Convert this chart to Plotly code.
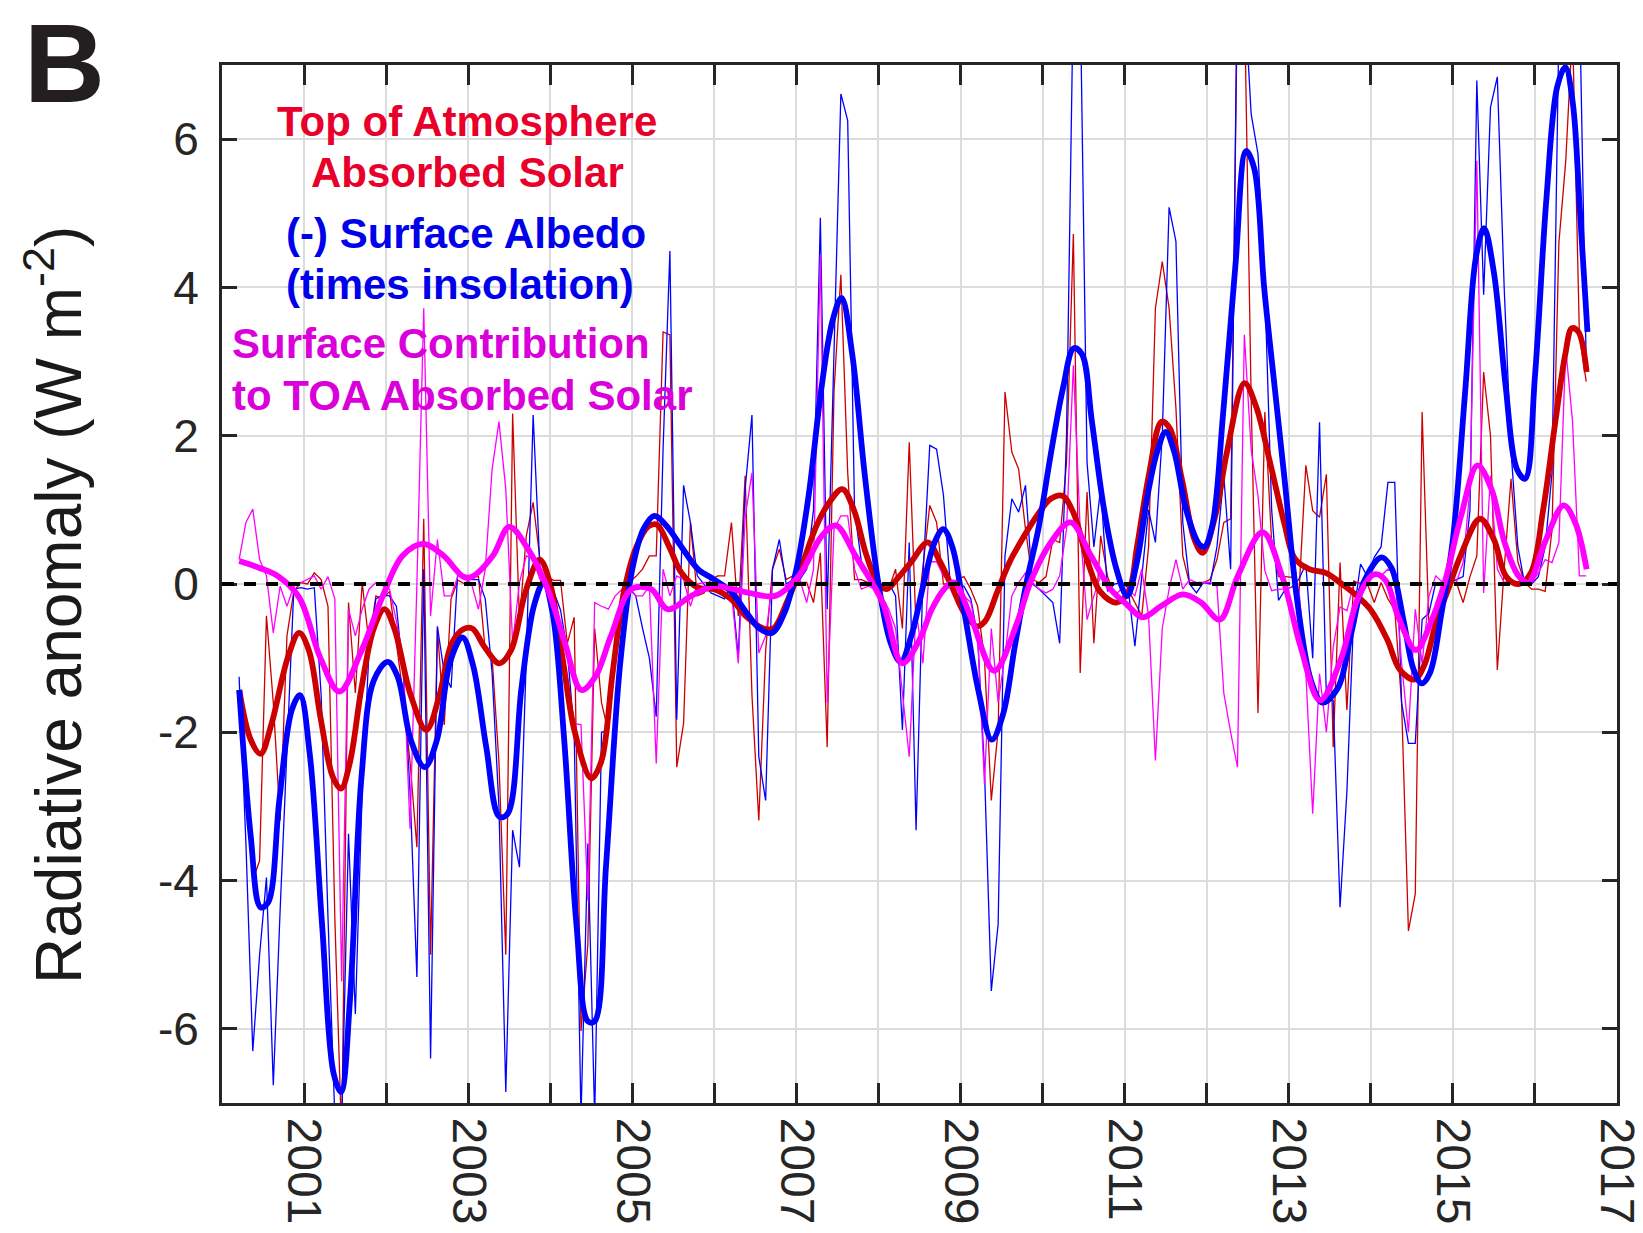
import plotly.graph_objects as go

# ---------------- monthly data, Mar 2000 .. Aug 2016 (W m-2) ----------------
toa_thin = (
    [-1.43, -2.6, -4.0, -3.73, -0.43, -1.6, -3.19, -0.7, -0.1, 0.02] +              # 2000 Mar-Dec
    [0.0, 0.15, 0.06, -0.3, -4.5, -7.5, -0.25, -1.47, 0.02, -0.8, -0.16, -0.2] +     # 2001
    [-0.1, -0.8, -1.5, -2.4, -3.55, 0.88, -5.0, -0.6, -1.9, -0.2, 0.05, 0.0] +       # 2002
    [0.1, 0.1, -0.9, -1.0, -2.4, -5.0, 2.3, -0.5, 0.65, 1.1, 0.33, 0.1] +            # 2003
    [0.05, 0.05, -0.8, -0.45, -6.03, -4.86, -0.6, -1.6, -2.0, -0.8, -0.07, 0.02] +   # 2004
    [0.1, 0.2, 0.38, 0.38, 3.4, 3.36, -2.47, -1.88, 0.83, -0.16, -0.12, 0.06] +      # 2005
    [0.11, 0.11, 0.83, -0.43, 1.46, -1.5, -3.19, -0.9, 0.2, 0.47, 0.06, 0.11] +      # 2006
    [0.02, 0.02, -0.25, 0.42, -2.2, 2.6, 4.17, 1.5, 0.06, 0.06, 0.02, 0.02] +        # 2007
    [-0.07, -0.07, 0.2, -0.6, 1.91, -0.6, 0.2, 1.06, 0.83, 0.0, 0.0, 0.06] +         # 2008
    [0.1, -0.07, -0.3, -1.0, -2.92, -1.97, 2.59, 1.78, 1.55, 0.74, 0.06, 0.02] +     # 2009
    [0.1, 0.6, 0.56, 1.64, 4.72, -1.2, 1.24, -0.8, 0.65, 0.1, -0.16, -0.25] +        # 2010
    [-0.07, -0.25, -0.43, 0.5, 3.72, 4.35, 3.72, 2.37, 0.38, 0.0, 0.0, 0.02] +       # 2011
    [0.06, 0.33, 0.83, 0.88, 8.0, 8.0, 2.5, -1.74, 2.32, 0.56, 0.1, 0.1] +           # 2012
    [0.09, -0.11, 1.6, 0.99, 0.9, 1.48, -2.2, 0.29, -1.7, 0.04, 0.0, 0.0] +          # 2013
    [-0.25, 0.02, -0.2, -0.35, -1.6, -4.68, -4.18, 2.32, -0.57, -0.52, 0.0, 0.02] +  # 2014
    [0.02, -0.25, 0.1, 0.38, 2.86, 2.0, -1.16, 0.2, 1.42, 0.3, 0.02, -0.07] +        # 2015
    [-0.07, -0.1, 0.74, 4.6, 5.7, 7.5, 3.36, 2.73]                                   # 2016 Jan-Aug
)

albedo_thin = (
    [-1.25, -3.5, -6.3, -5.0, -3.96, -6.76, -4.4, -2.2, -0.07, -0.05] +
    [-0.07, -0.05, -1.5, -4.5, -7.2, -7.3, -3.37, -5.8, -2.8, -0.9, -0.2, -0.15] +
    [-0.16, -0.3, -1.2, -2.8, -5.3, 0.2, -6.4, -0.57, -1.2, -1.4, 0.2, 0.06] +
    [0.06, 0.06, -0.2, -1.2, -3.0, -6.85, -3.32, -3.82, -1.0, 2.28, 0.2, 0.0] +
    [-0.1, -0.35, -0.9, -2.0, -7.2, -3.5, -7.2, -2.0, -1.97, -1.0, -0.1, -0.05] +
    [-0.16, -0.6, -1.0, -1.79, 1.82, 4.49, -1.83, 1.33, 0.83, 0.11, 0.0, -0.12] +
    [-0.16, -0.2, 0.0, -0.98, 1.28, 2.28, -2.33, -2.92, 0.2, 0.6, 0.0, 0.06] +
    [0.06, 0.2, 1.0, 4.94, -0.34, 3.0, 6.61, 6.25, 1.0, 0.3, 0.06, -0.03] +
    [-0.03, 0.02, -0.16, -1.97, 0.56, -3.32, 0.1, 1.87, 1.82, 1.2, 0.0, -0.03] +
    [-0.03, -0.2, -0.7, -2.5, -5.49, -4.59, 0.38, 1.15, 0.97, 1.33, 0.0, -0.07] +
    [-0.16, -0.25, -0.8, 2.0, 8.0, 8.0, 1.64, 0.5, 1.3, -0.1, 0.0, 0.02] +
    [-0.05, -0.84, 0.1, 1.0, 0.56, 2.0, 5.08, 4.62, 0.83, 0.0, -0.12, 0.02] +
    [0.0, 0.5, 1.46, 0.2, 8.5, 8.0, 6.34, 5.8, 4.0, 1.0, -0.22, -0.07] +
    [-0.04, 0.07, 0.27, -1.0, 2.18, -1.53, -1.57, -4.36, -2.8, -0.4, 0.27, 0.1] +
    [0.36, 0.5, 1.37, 1.37, -1.6, -2.15, -2.15, -0.48, -0.39, 0.02, 0.0, 0.02] +
    [0.06, 0.1, 1.0, 6.79, 3.9, 6.43, 6.84, 4.0, 1.8, 0.5, 0.0, 0.0] +
    [0.1, 0.5, 1.5, 7.5, 9.0, 9.0, 8.0, 2.95]
)

surface_thin = (
    [0.33, 0.83, 1.01, 0.33, 0.11, -0.66, -0.03, -0.3, -0.03, 0.02] +
    [0.06, 0.11, -0.07, 0.1, -0.2, -5.36, -0.34, -0.7, -0.34, -0.07, 0.02, -0.03] +
    [-0.07, -0.5, -1.0, -3.3, 0.0, 3.72, -0.43, 0.6, -0.16, -0.16, 0.11, 0.1] +
    [0.0, -0.34, 0.2, 1.55, 2.19, 1.28, -0.8, 0.02, 0.38, 0.33, 0.06, -0.07] +
    [-0.16, -0.7, -1.25, -1.88, -1.9, -4.27, -0.25, -0.3, -0.34, -0.16, -0.07, -0.03] +
    [-0.16, -0.16, -0.03, -2.42, 0.2, -0.16, 0.11, 0.06, -0.3, 0.0, 0.02, 0.02] +
    [-0.07, -0.07, -0.1, -1.07, 0.9, 1.5, -0.93, -0.7, 0.02, 0.02, -0.03, -0.07] +
    [0.06, -0.25, 0.2, 4.44, -1.6, 0.74, 0.92, 0.92, 0.2, -0.07, -0.03, -0.07] +
    [-0.16, -0.34, -0.6, -1.5, -2.33, -0.34, -1.07, 0.3, 0.3, 0.11, 0.02, -0.07] +
    [-0.16, -0.25, -0.7, -2.7, -0.6, -1.6, -0.97, -0.16, 0.02, 0.15, 0.02, -0.07] +
    [-0.12, -0.07, 0.11, 0.74, 2.95, 0.74, -0.48, -0.16, 0.11, -0.07, -0.16, -0.07] +
    [-0.07, -0.16, 0.2, -0.43, -2.38, -0.6, -0.07, 0.33, -0.07, 0.06, 0.02, 0.02] +
    [0.02, -0.03, -1.47, -2.0, -2.47, 3.36, 1.82, 1.19, 0.18, -0.09, -0.07, -0.07] +
    [-0.04, -0.09, -1.2, -3.1, -1.21, -2.0, -0.85, -0.31, -0.36, 0.0, 0.02, 0.1] +
    [0.11, 0.11, 0.2, 0.15, -1.07, -2.0, -0.34, -1.07, -0.16, 0.11, 0.02, 0.02] +
    [0.02, 0.29, 1.28, 5.71, -0.12, 1.46, 0.2, 0.02, 0.06, 0.02, 0.02, 0.02] +
    [0.15, 0.33, 0.29, 0.56, 3.18, 2.19, 0.11, 0.11]
)

first_year, first_month = 2000, 3   # series start: March 2000

# ---------------- smoothed curves (decimal year, W m-2) ----------------
albedo_smooth_t = [
    2000.21, 2000.35, 2000.47, 2000.56, 2000.70, 2000.85, 2000.95,
    2001.07, 2001.22, 2001.36, 2001.45, 2001.56, 2001.70, 2001.85,
    2002.02, 2002.14, 2002.30, 2002.47, 2002.62, 2002.78, 2002.93,
    2003.06, 2003.22, 2003.38, 2003.48, 2003.65, 2003.80, 2003.92,
    2004.03, 2004.17, 2004.32, 2004.46, 2004.54, 2004.68, 2004.85,
    2005.00, 2005.14, 2005.27, 2005.42, 2005.60, 2005.80,
    2006.00, 2006.20, 2006.40, 2006.55, 2006.70, 2006.85,
    2007.00, 2007.15, 2007.30, 2007.44, 2007.55, 2007.68, 2007.83,
    2008.00, 2008.15, 2008.27, 2008.40, 2008.55, 2008.68, 2008.79, 2008.90,
    2009.05, 2009.22, 2009.38, 2009.52, 2009.66, 2009.80, 2009.95,
    2010.10, 2010.25, 2010.38, 2010.48, 2010.60, 2010.75, 2010.90,
    2011.03, 2011.15, 2011.28, 2011.40, 2011.50, 2011.60, 2011.75, 2011.90, 2011.97,
    2012.07, 2012.20, 2012.35, 2012.48, 2012.58, 2012.70, 2012.82, 2012.95,
    2013.10, 2013.27, 2013.41, 2013.60, 2013.76, 2013.92,
    2014.13, 2014.25, 2014.40, 2014.52, 2014.62, 2014.72, 2014.86,
    2015.00, 2015.15, 2015.28, 2015.38, 2015.50, 2015.64, 2015.78, 2015.88,
    2016.00, 2016.14, 2016.27, 2016.37, 2016.46, 2016.55, 2016.64,
]
albedo_smooth_v = [
    -1.43, -3.4, -4.36, -4.3, -2.9, -1.7, -1.5,
    -2.3, -4.6, -6.6, -6.85, -5.6, -2.6, -1.3,
    -1.05, -1.25, -2.1, -2.47, -2.1, -1.05, -0.72,
    -1.1, -2.2, -3.14, -3.1, -1.4, -0.3, 0.02,
    -0.4, -2.1, -4.6, -5.9, -5.9, -3.8, -1.1,
    0.2, 0.75, 0.92, 0.78, 0.5, 0.2,
    0.06, -0.1, -0.4, -0.6, -0.66, -0.4,
    0.2, 1.2, 2.6, 3.55, 3.86, 3.1, 1.5,
    0.0, -0.8, -1.05, -0.7, 0.0, 0.55, 0.74, 0.5,
    -0.4, -1.45, -2.1, -1.75, -0.85, 0.0, 0.75,
    1.75, 2.65, 3.18, 3.1, 2.2, 1.0, 0.2,
    -0.16, 0.3, 1.2, 1.8, 2.05, 1.8, 1.0, 0.55, 0.5,
    0.8, 2.3, 4.3, 5.84, 5.6, 4.0, 2.74, 1.4,
    -0.2, -1.3, -1.6, -1.4, -0.67, 0.04,
    0.36, 0.22, -0.5, -1.15, -1.34, -1.2, -0.4,
    0.6, 2.6, 4.4, 4.8, 4.2, 2.7, 1.55, 1.42,
    2.8, 5.2, 6.7, 6.97, 6.5, 5.0, 3.4,
]

toa_smooth_t = [
    2000.21, 2000.35, 2000.47, 2000.60, 2000.80, 2000.94,
    2001.06, 2001.20, 2001.35, 2001.45, 2001.56, 2001.70, 2001.85, 2001.98,
    2002.10, 2002.30, 2002.49, 2002.65, 2002.80, 2002.94,
    2003.05, 2003.20, 2003.38, 2003.52, 2003.70, 2003.87,
    2004.00, 2004.15, 2004.30, 2004.50, 2004.62, 2004.76, 2004.90,
    2005.05, 2005.20, 2005.30, 2005.45, 2005.60, 2005.80,
    2006.00, 2006.20, 2006.40, 2006.60, 2006.72, 2006.90,
    2007.05, 2007.25, 2007.40, 2007.56, 2007.70, 2007.85,
    2008.00, 2008.10, 2008.25, 2008.40, 2008.60, 2008.75, 2008.90,
    2009.05, 2009.20, 2009.30, 2009.45, 2009.60, 2009.75, 2009.95,
    2010.10, 2010.24, 2010.38, 2010.55, 2010.70, 2010.90,
    2011.05, 2011.15, 2011.30, 2011.45, 2011.55, 2011.70, 2011.85, 2011.95,
    2012.10, 2012.25, 2012.46, 2012.60, 2012.78, 2012.95,
    2013.07, 2013.25, 2013.45, 2013.60, 2013.80,
    2014.00, 2014.20, 2014.35, 2014.53, 2014.65, 2014.80, 2014.95,
    2015.10, 2015.33, 2015.50, 2015.65, 2015.80, 2015.95,
    2016.10, 2016.25, 2016.37, 2016.45, 2016.53, 2016.63,
]
toa_smooth_v = [
    -1.43, -2.1, -2.29, -1.9, -1.0, -0.66,
    -0.9, -1.8, -2.6, -2.76, -2.4, -1.4, -0.6, -0.34,
    -0.6, -1.5, -1.97, -1.5, -0.8, -0.61,
    -0.6, -0.85, -1.07, -0.9, -0.1, 0.33,
    0.0, -1.0, -2.0, -2.62, -2.4, -1.2, -0.1,
    0.5, 0.78, 0.8, 0.5, 0.15, -0.05,
    -0.07, -0.2, -0.45, -0.6, -0.6, -0.2,
    0.2, 0.8, 1.1, 1.28, 1.0, 0.4,
    0.0, -0.07, 0.1, 0.3, 0.56, 0.3, -0.05,
    -0.4, -0.57, -0.5, -0.1, 0.3, 0.6, 0.95,
    1.15, 1.19, 0.95, 0.3, -0.1, -0.25,
    -0.1, 0.5, 1.5, 2.19, 2.1, 1.4, 0.6, 0.42,
    0.9, 1.8, 2.71, 2.4, 1.6, 0.8,
    0.35, 0.2, 0.15, 0.04, -0.13,
    -0.35, -0.75, -1.15, -1.29, -1.1, -0.5, -0.05,
    0.4, 0.88, 0.6, 0.1, 0.0, 0.15,
    1.0, 2.2, 3.1, 3.45, 3.4, 2.86,
]

surface_smooth_t = [
    2000.21, 2000.45, 2000.69, 2000.94,
    2001.20, 2001.43, 2001.70, 2001.96,
    2002.20, 2002.45, 2002.70, 2002.94,
    2003.05, 2003.30, 2003.50, 2003.73, 2003.97,
    2004.18, 2004.38, 2004.55, 2004.74, 2004.99,
    2005.23, 2005.43, 2005.72,
    2006.00, 2006.42, 2006.74,
    2007.03, 2007.31, 2007.48, 2007.72,
    2008.05, 2008.29, 2008.50, 2008.65, 2008.80, 2008.92,
    2009.12, 2009.41, 2009.69, 2009.85,
    2010.10, 2010.34, 2010.59, 2010.83,
    2011.03, 2011.22, 2011.44, 2011.71, 2011.93,
    2012.16, 2012.38, 2012.68, 2012.92,
    2013.15, 2013.38, 2013.64, 2013.84,
    2014.04, 2014.18, 2014.33, 2014.55, 2014.73, 2014.90,
    2015.10, 2015.30, 2015.47, 2015.63, 2015.80, 2015.92,
    2016.12, 2016.35, 2016.49, 2016.63,
]
surface_smooth_v = [
    0.31, 0.22, 0.1, -0.18,
    -1.0, -1.45, -0.9, -0.16,
    0.38, 0.54, 0.38, 0.1,
    0.1, 0.38, 0.77, 0.47, -0.07,
    -0.8, -1.43, -1.25, -0.7, -0.07,
    -0.07, -0.34, -0.16,
    -0.03, -0.12, -0.16,
    0.11, 0.65, 0.79, 0.38,
    -0.25, -1.07, -0.75, -0.34, -0.07, 0.02,
    -0.43, -1.17, -0.52, 0.02,
    0.56, 0.83, 0.38, -0.07,
    -0.28, -0.45, -0.3, -0.14, -0.25,
    -0.48, 0.11, 0.7, 0.1,
    -0.87, -1.57, -1.0, -0.2,
    0.13, 0.05, -0.43, -0.89, -0.52, 0.02,
    0.92, 1.6, 1.28, 0.56, 0.11, 0.02,
    0.56, 1.06, 0.83, 0.2,
]

year_labels_at = [2001, 2003, 2005, 2007, 2009, 2011, 2013, 2015, 2017]
year_labels = [str(y) for y in year_labels_at]
y_ticks = [-6, -4, -2, 0, 2, 4, 6]
y_labels = ["-6", "-4", "-2", "0", "2", "4", "6"]

legend_lines = [
    ("Top of Atmosphere", "#e8002a"),
    ("Absorbed Solar", "#e8002a"),
    ("(-) Surface Albedo", "#0000eb"),
    ("(times insolation)", "#0000eb"),
    ("Surface Contribution", "#d900d9"),
    ("to TOA Absorbed Solar", "#d900d9"),
]

# ---------------- figure ----------------
def month_axis(n):
    return [first_year + (first_month - 1 + i + 0.5) / 12.0 for i in range(n)]

RED = "#cc0000"
BLUE = "#0000ff"
MAG = "#ff00ff"
THIN = 1.3
THICK = 5.8

fig = go.Figure()
fig.add_trace(go.Scatter(x=month_axis(len(toa_thin)), y=toa_thin, mode="lines",
                         line=dict(color=RED, width=THIN), showlegend=False))
fig.add_trace(go.Scatter(x=month_axis(len(albedo_thin)), y=albedo_thin, mode="lines",
                         line=dict(color=BLUE, width=THIN), showlegend=False))
fig.add_trace(go.Scatter(x=month_axis(len(surface_thin)), y=surface_thin, mode="lines",
                         line=dict(color=MAG, width=THIN), showlegend=False))
fig.add_trace(go.Scatter(x=toa_smooth_t, y=toa_smooth_v, mode="lines",
                         line=dict(color=RED, width=THICK, shape="spline", smoothing=1.0),
                         showlegend=False))
fig.add_trace(go.Scatter(x=albedo_smooth_t, y=albedo_smooth_v, mode="lines",
                         line=dict(color=BLUE, width=THICK, shape="spline", smoothing=1.0),
                         showlegend=False))
fig.add_trace(go.Scatter(x=surface_smooth_t, y=surface_smooth_v, mode="lines",
                         line=dict(color=MAG, width=THICK, shape="spline", smoothing=1.0),
                         showlegend=False))

# dashed zero reference line
fig.add_hline(y=0, line=dict(color="black", width=4, dash="12px,10px"))

AX = "#262626"
GRID = "#dcdcdc"
FONT = "Liberation Sans, Arial, Helvetica, sans-serif"

fig.update_layout(
    width=1643, height=1233,
    margin=dict(l=222, r=26, t=65, b=130),
    paper_bgcolor="white", plot_bgcolor="white",
    font=dict(family=FONT, color=AX),
    xaxis=dict(range=[2000, 2017], tickmode="array", tickvals=year_labels_at, ticktext=year_labels,
               tickangle=90, ticks="inside", ticklen=20, tickwidth=3, tickcolor=AX,
               showline=True, linewidth=3, linecolor=AX, mirror="ticks",
               showgrid=True, gridcolor=GRID, gridwidth=2, zeroline=False,
               minor=dict(tickmode="linear", tick0=2000, dtick=1, ticks="inside",
                          ticklen=20, tickwidth=3, tickcolor=AX,
                          showgrid=True, gridcolor=GRID, gridwidth=2),
               automargin=False, ticklabeloverflow="allow",
               tickfont=dict(size=48, color=AX, family=FONT), ticklabelstandoff=2),
    yaxis=dict(range=[-7, 7], tickmode="array", tickvals=y_ticks, ticktext=y_labels,
               ticks="inside", ticklen=15, tickwidth=3, tickcolor=AX,
               showline=True, linewidth=3, linecolor=AX, mirror="ticks",
               showgrid=True, gridcolor=GRID, gridwidth=2, zeroline=False,
               automargin=False,
               tickfont=dict(size=46, color=AX, family=FONT), ticklabelstandoff=11),
)

# plot area in pixels, used to place text
L, R, T, B = 222, 1643 - 26, 65, 1233 - 130
def px(xp):
    return (xp - L) / (R - L)
def py(yp):
    return (B - yp) / (B - T)

# legend-like labels
legend_pos = [
    (467, 122, "center"),
    (467, 172, "center"),
    (466, 233, "center"),
    (460, 284, "center"),
    (230, 343, "left"),
    (230, 395, "left"),
]
for (txt, col), (xp, yp, anc) in zip(legend_lines, legend_pos):
    fig.add_annotation(x=px(xp), y=py(yp), xref="paper", yref="paper",
                       text="<b>%s</b>" % txt, showarrow=False,
                       xanchor=anc, yanchor="middle",
                       font=dict(size=42, color=col, family=FONT))

# y-axis title
fig.add_annotation(x=px(54), y=py(605), xref="paper", yref="paper",
                   text="Radiative anomaly (W m<sup>-2</sup>)", textangle=-90,
                   showarrow=False, xanchor="center", yanchor="middle",
                   font=dict(size=64, color="#1a1a1a", family=FONT))

# panel letter
fig.add_annotation(x=px(64), y=py(0), xref="paper", yref="paper",
                   text="<b>B</b>", showarrow=False, xanchor="center", yanchor="top",
                   borderpad=0,
                   font=dict(size=112, color="#231f20", family=FONT))

# remove the default page margin so the figure sits at the window's top-left corner
fig.write_html("out.html", config={"displayModeBar": False},
               post_script="document.body.style.margin='0px';")
